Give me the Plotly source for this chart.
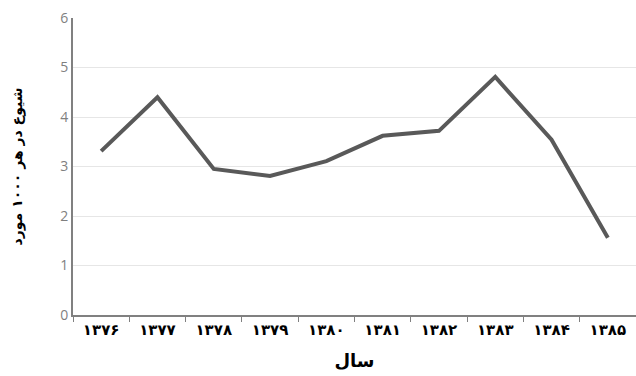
import plotly.graph_objects as go

years = ["۱۳۷۶", "۱۳۷۷", "۱۳۷۸", "۱۳۷۹", "۱۳۸۰", "۱۳۸۱", "۱۳۸۲", "۱۳۸۳", "۱۳۸۴", "۱۳۸۵"]
prevalence = [3.31, 4.40, 2.95, 2.81, 3.11, 3.62, 3.72, 4.81, 3.54, 1.56]

fig = go.Figure(go.Scatter(
    x=years, y=prevalence, mode="lines",
    line=dict(color="#595959", width=4),
))

fig.update_layout(
    width=636, height=376,
    margin=dict(l=73, r=0, t=18, b=61),
    paper_bgcolor="white", plot_bgcolor="white",
    showlegend=False,
    font=dict(family="DejaVu Sans"),
)
fig.update_xaxes(
    type="category", range=[-0.5, 9.5], automargin=False,
    tickson="boundaries", ticks="outside", ticklen=5, tickcolor="#808080",
    showline=True, linecolor="#808080", linewidth=2,
    showgrid=False,
    tickfont=dict(family="DejaVu Sans", size=15, color="black", weight="bold"),
    title=dict(text="سال", font=dict(family="DejaVu Sans", size=18, color="black", weight="bold"), standoff=16),
)
fig.update_yaxes(
    range=[0, 6], dtick=1, automargin=False,
    showline=True, linecolor="#808080", linewidth=2,
    showgrid=True, gridcolor="#e6e6e6", gridwidth=1,
    zeroline=False,
    ticks="", tickfont=dict(family="Open Sans", size=14, color="#7f7f7f"),
    title=dict(text="شیوع در هر ۱۰۰۰ مورد", font=dict(family="DejaVu Sans", size=14, color="black", weight="bold"), standoff=34),
)

fig.write_html(
    "out.html",
    config={"displayModeBar": False},
    post_script="document.body.style.margin='0';document.body.style.overflow='hidden';",
)
